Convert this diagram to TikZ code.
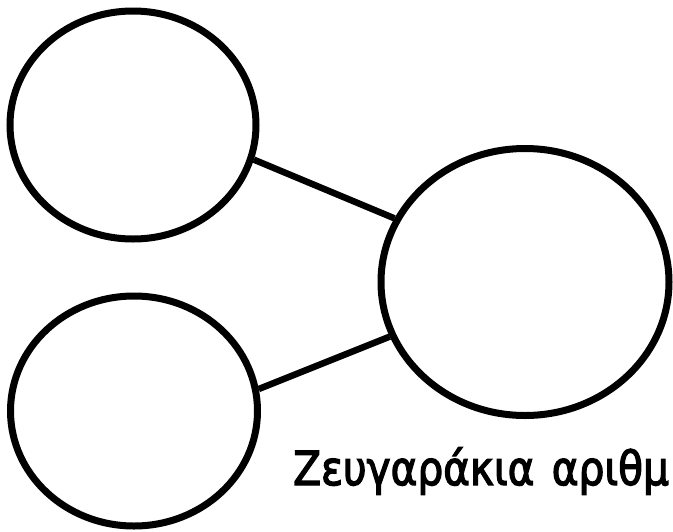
\documentclass[tikz,border=0pt]{standalone}
\usepackage{fontspec}
\setmainfont{DejaVu Sans}
\newfontfamily\capfont[FakeBold=3]{DejaVu Sans}
\usetikzlibrary{shapes.geometric}
\begin{document}
\begin{tikzpicture}[x=1pt,y=-1pt,
  bubble/.style={draw=black,line width=7pt,ellipse,inner sep=0pt,fill=white},
  link/.style={draw=black,line width=6.5pt},
  caption/.style={inner sep=0pt,anchor=base west,font=\capfont\fontsize{47}{50}\selectfont}]
\useasboundingbox[fill=white] (0,0) rectangle (673,531);
\node[bubble,minimum width=246pt,minimum height=228pt] (tl) at (133,125) {};
\node[bubble,minimum width=247pt,minimum height=230pt] (bl) at (134,411) {};
\node[bubble,minimum width=288pt,minimum height=267pt] (r) at (525,282) {};
\draw[link] (tl.-16) -- (r.154);
\draw[link] (bl.10) -- (r.202);
\node[caption] (t) at (293,485) {\scalebox{0.865}[1]{Ζευγαράκια\hspace{20pt}αριθμ}};
\end{tikzpicture}
\end{document}
